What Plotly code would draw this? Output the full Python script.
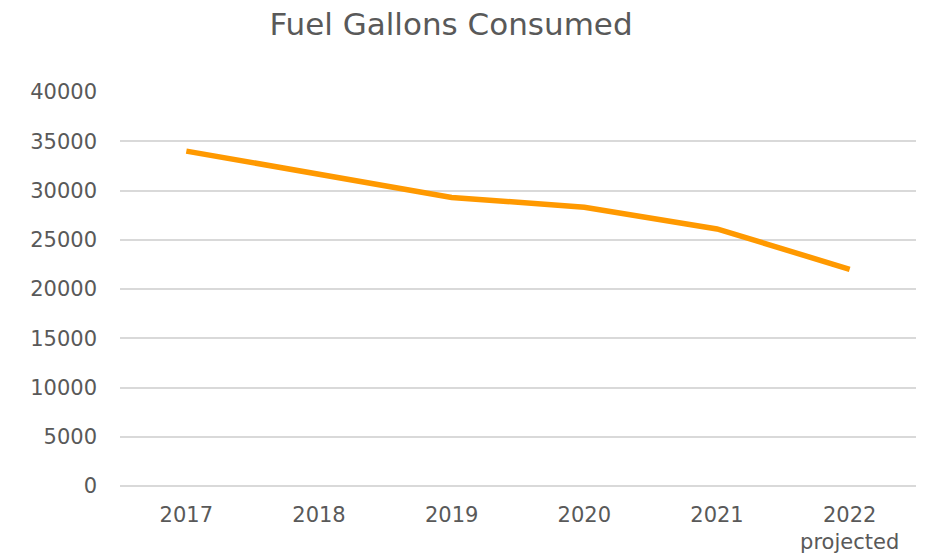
import plotly.graph_objects as go

years = ["2017", "2018", "2019", "2020", "2021", "2022"]
tick_labels = ["2017", "2018", "2019", "2020", "2021", "2022<br>projected"]
gallons = [34000, 31700, 29300, 28300, 26100, 22000]

W, H = 930, 553

fig = go.Figure(go.Scatter(
    x=years,
    y=gallons,
    mode="lines",
    line=dict(color="#FF9900", width=5.5),
))

fig.update_layout(
    width=W,
    height=H,
    paper_bgcolor="white",
    plot_bgcolor="white",
    margin=dict(l=120, r=14, t=92, b=67),
    showlegend=False,
    title=dict(
        text="Fuel Gallons Consumed",
        x=451 / W, xanchor="center",
        y=1 - 24 / H, yanchor="middle",
        font=dict(family="DejaVu Sans, sans-serif", size=31, color="#595959"),
    ),
    font=dict(family="DejaVu Sans, sans-serif", color="#595959"),
)

fig.update_xaxes(
    type="category",
    range=[-0.5, 5.5],
    tickvals=years,
    ticktext=tick_labels,
    tickfont=dict(size=21, color="#595959"),
    showgrid=False,
    showline=False,
    ticks="",
    ticklabelstandoff=14,
    automargin=False,
)

fig.update_yaxes(
    range=[0, 40000],
    dtick=5000,
    tickformat="d",
    tickfont=dict(size=21, color="#595959"),
    showgrid=True,
    gridcolor="#d9d9d9",
    gridwidth=1.5,
    zeroline=True,
    zerolinecolor="#d9d9d9",
    zerolinewidth=1.5,
    showline=False,
    ticks="",
    ticklabelstandoff=22,
    automargin=False,
)

# drop the default body margin so the figure fills the window exactly
fig.write_html(
    "out.html",
    config={"displayModeBar": False},
    post_script="document.body.style.margin='0';",
)
